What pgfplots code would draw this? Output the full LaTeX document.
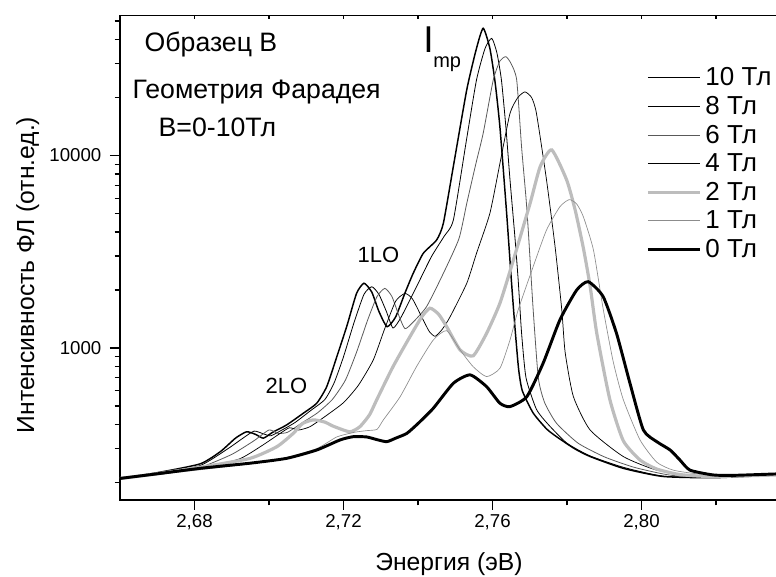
\documentclass[border=0pt]{standalone}
\usepackage{fontspec}
\setmainfont{Liberation Sans}
\usepackage{pgfplots}
\pgfplotsset{compat=1.18}

\definecolor{grsix}{gray}{0.35}
\definecolor{grtwo}{gray}{0.74}
\definecolor{grone}{gray}{0.55}

\begin{document}
\begin{tikzpicture}
\useasboundingbox (-90pt,-57.75pt) rectangle (492pt,375pt);
\begin{axis}[
  scale only axis,
  width=502.875pt, height=363.375pt,
  xmin=2.66, xmax=2.84,
  ymode=log, ymin=162.3, ymax=53370,
  axis line style={line width=1pt},
  tick style={line width=1pt, black},
  tick align=outside,
  xtick pos=bottom, ytick pos=left,
  major tick length=7.5pt, minor tick length=4pt,
  xtick={2.68,2.72,2.76,2.80},
  xticklabels={{2,68},{2,72},{2,76},{2,80}},
  minor xtick={2.70,2.74,2.78,2.82},
  ytick={1000,10000}, yticklabels={1000,10000},
  minor ytick={200,300,400,500,600,700,800,900,2000,3000,4000,5000,6000,7000,8000,9000,20000,30000,40000,50000},
  tick label style={font=\fontsize{14}{16}\selectfont},
  yticklabel style={xshift=-3pt},
  label style={font=\fontsize{18.5}{22}\selectfont},
  xlabel={Энергия (эВ)},
  ylabel={Интенсивность ФЛ (отн.ед.)},
  xlabel style={at={(rel axis cs:0.4907,-0.1465)}, anchor=base},
  ylabel style={at={(rel axis cs:-0.1280,0.4644)}, anchor=base},
  legend style={draw=none, fill=none, at={(rel axis cs:0.7845,0.8930)},
    anchor=north west, font=\fontsize{19.5}{22}\selectfont,
    inner sep=0pt, row sep=6.4pt, column sep=3pt, nodes={inner sep=0pt}},
  legend cell align=left,
  legend image code/.code={\draw[#1] (0pt,0pt) -- (39pt,0pt);},
]

% 10 T
\addplot[black, line width=1.1pt, smooth, tension=0.35] coordinates {
(2.6600,210) (2.6700,225) (2.6815,250) (2.6870,290) (2.6910,340) (2.6940,367)
(2.6965,355) (2.6985,340) (2.7010,365) (2.7047,398) (2.7092,458) (2.7128,516)
(2.7155,630) (2.7182,900) (2.7209,1300) (2.7235,1920) (2.7255,2170) (2.7276,1950)
(2.7295,1550) (2.7317,1290) (2.7340,1450) (2.7365,1930) (2.7387,2440) (2.7414,3100)
(2.7450,3640) (2.7468,4440) (2.7495,8800) (2.7531,22000) (2.7557,36000) (2.7575,45800)
(2.7593,36000) (2.7607,24000) (2.7620,14000) (2.7638,5000) (2.7651,2200) (2.7660,1300)
(2.7670,780) (2.7680,600) (2.7709,460) (2.7745,380) (2.7772,346) (2.7820,300)
(2.7862,273) (2.7951,237) (2.8058,215) (2.8200,212) (2.8400,221)};
\addlegendentry{10 Тл}

% 8 T
\addplot[black, line width=0.6pt, smooth, tension=0.35] coordinates {
(2.6600,210) (2.6700,222) (2.6815,245) (2.6890,300) (2.6930,340) (2.6960,370)
(2.6985,358) (2.7005,350) (2.7035,375) (2.7070,410) (2.7110,470) (2.7150,540)
(2.7175,660) (2.7200,900) (2.7228,1350) (2.7255,1900) (2.7276,2080) (2.7295,1900)
(2.7315,1550) (2.7333,1270) (2.7355,1450) (2.7396,2080) (2.7436,2980) (2.7470,3800)
(2.7495,4630) (2.7530,12000) (2.7557,24660) (2.7580,36000) (2.7598,40600) (2.7612,34000)
(2.7624,24660) (2.7636,14000) (2.7647,7470) (2.7660,3800) (2.7669,2250) (2.7678,1200)
(2.7690,700) (2.7718,480) (2.7750,400) (2.7800,320) (2.7862,275) (2.7951,240)
(2.8058,216) (2.8200,213) (2.8400,221)};
\addlegendentry{8 Тл}

% 6 T
\addplot[grsix, line width=0.6pt, smooth, tension=0.35] coordinates {
(2.6600,210) (2.6700,220) (2.6815,240) (2.6900,280) (2.6960,330) (2.7000,375)
(2.7025,360) (2.7050,365) (2.7090,410) (2.7130,460) (2.7170,540) (2.7205,680)
(2.7235,950) (2.7265,1400) (2.7290,1850) (2.7311,2040) (2.7330,1850) (2.7350,1450)
(2.7365,1260) (2.7385,1350) (2.7423,1640) (2.7468,2440) (2.7510,3700) (2.7531,5650)
(2.7555,9000) (2.7575,13040) (2.7602,24660) (2.7620,31000) (2.7636,32600) (2.7650,30000)
(2.7665,24660) (2.7678,11110) (2.7690,6000) (2.7696,4100) (2.7709,1600) (2.7723,700)
(2.7740,520) (2.7772,406) (2.7830,320) (2.7900,272) (2.7980,240) (2.8080,218)
(2.8200,214) (2.8400,221)};
\addlegendentry{6 Тл}

% 4 T
\addplot[black, line width=0.55pt, smooth, tension=0.35] coordinates {
(2.6600,210) (2.6700,220) (2.6815,237) (2.6920,265) (2.6980,310) (2.7030,360)
(2.7055,385) (2.7080,375) (2.7110,390) (2.7150,440) (2.7200,520) (2.7240,640)
(2.7280,867) (2.7310,1250) (2.7340,1750) (2.7365,1920) (2.7385,1800) (2.7410,1450)
(2.7430,1220) (2.7446,1150) (2.7465,1250) (2.7486,1450) (2.7531,2170) (2.7557,3100)
(2.7593,5010) (2.7620,9110) (2.7647,16560) (2.7668,20000) (2.7687,21400) (2.7705,20000)
(2.7718,16560) (2.7745,7470) (2.7768,3360) (2.7786,1580) (2.7795,950) (2.7817,560)
(2.7862,375) (2.7951,273) (2.8041,232) (2.8150,217) (2.8400,221)};
\addlegendentry{4 Тл}

% 2 T
\addplot[grtwo, line width=2.4pt, smooth, tension=0.35] coordinates {
(2.6600,210) (2.6700,222) (2.6815,240) (2.6949,267) (2.7021,307) (2.7065,360)
(2.7090,405) (2.7119,423) (2.7150,412) (2.7173,392) (2.7217,367) (2.7244,390)
(2.7270,450) (2.7289,537) (2.7333,800) (2.7379,1150) (2.7410,1450) (2.7432,1610)
(2.7455,1500) (2.7477,1290) (2.7513,977) (2.7548,910) (2.7584,1190) (2.7620,1710)
(2.7656,2860) (2.7701,5650) (2.7728,8750) (2.7759,10690) (2.7799,7470) (2.7822,5200)
(2.7844,3300) (2.7862,2100) (2.7880,1190) (2.7915,540) (2.7951,330) (2.7996,262)
(2.8041,235) (2.8103,220) (2.8192,215) (2.8400,220)};
\addlegendentry{2 Тл}

% 1 T
\addplot[grone, line width=0.5pt, smooth, tension=0.35] coordinates {
(2.6600,210) (2.6700,220) (2.6815,233) (2.6949,250) (2.7038,267) (2.7128,300)
(2.7182,345) (2.7230,365) (2.7262,372) (2.7290,378) (2.7307,423) (2.7352,558)
(2.7396,800) (2.7441,1100) (2.7477,1230) (2.7513,977) (2.7548,800) (2.7584,710)
(2.7620,785) (2.7647,1100) (2.7669,1580) (2.7709,2640) (2.7745,4100) (2.7781,5420)
(2.7806,5900) (2.7826,5600) (2.7844,4800) (2.7871,3230) (2.7897,1600) (2.7924,850)
(2.7951,540) (2.7996,333) (2.8041,255) (2.8085,232) (2.8150,222) (2.8250,218)
(2.8400,222)};
\addlegendentry{1 Тл}

% 0 T
\addplot[black, line width=2.2pt, smooth, tension=0.35] coordinates {
(2.6600,210) (2.6700,222) (2.6815,237) (2.6949,252) (2.7047,267) (2.7128,295)
(2.7191,333) (2.7226,346) (2.7262,345) (2.7290,334) (2.7316,326) (2.7340,340)
(2.7370,360) (2.7400,405) (2.7441,486) (2.7495,656) (2.7540,725) (2.7584,630)
(2.7620,516) (2.7647,496) (2.7692,558) (2.7736,834) (2.7781,1400) (2.7826,2000)
(2.7857,2210) (2.7897,1850) (2.7933,1190) (2.7969,656) (2.8005,375) (2.8041,326)
(2.8077,295) (2.8103,262) (2.8130,232) (2.8192,219) (2.8250,218) (2.8400,223)};
\addlegendentry{0 Тл}

\node[anchor=base west, font=\fontsize{20}{24}\selectfont] at (rel axis cs:0.0298,0.9247) {Образец В};
\node[anchor=base west, font=\fontsize{20}{24}\selectfont] at (rel axis cs:0.0119,0.8277) {Геометрия Фарадея};
\node[anchor=base west, font=\fontsize{20}{24}\selectfont] at (rel axis cs:0.0507,0.7492) {B=0-10Тл};
\node[anchor=base west, font=\fontsize{16.5}{20}\selectfont] at (rel axis cs:0.3475,0.4912) {1LO};
\node[anchor=base west, font=\fontsize{16.5}{20}\selectfont] at (rel axis cs:0.2103,0.2208) {2LO};
\node[anchor=base west, font=\fontsize{28}{32}\selectfont, inner sep=0pt] at (rel axis cs:0.4519,0.9226) {I};
\node[anchor=base west, font=\fontsize{15}{18}\selectfont, inner sep=0pt] at (rel axis cs:0.4668,0.8929) {mp};
\end{axis}
\begin{axis}[
  scale only axis,
  width=502.875pt, height=363.375pt,
  xmin=2.66, xmax=2.84,
  ymode=log, ymin=162.3, ymax=53370,
  hide y axis,
  axis x line*=top,
  axis line style={line width=1pt},
  tick style={line width=1pt, black},
  tick align=inside,
  major tick length=3pt,
  xtick={2.68,2.70,2.72,2.74,2.76,2.78,2.80,2.82},
  xticklabels={},
]
\end{axis}
\end{tikzpicture}
\end{document}
